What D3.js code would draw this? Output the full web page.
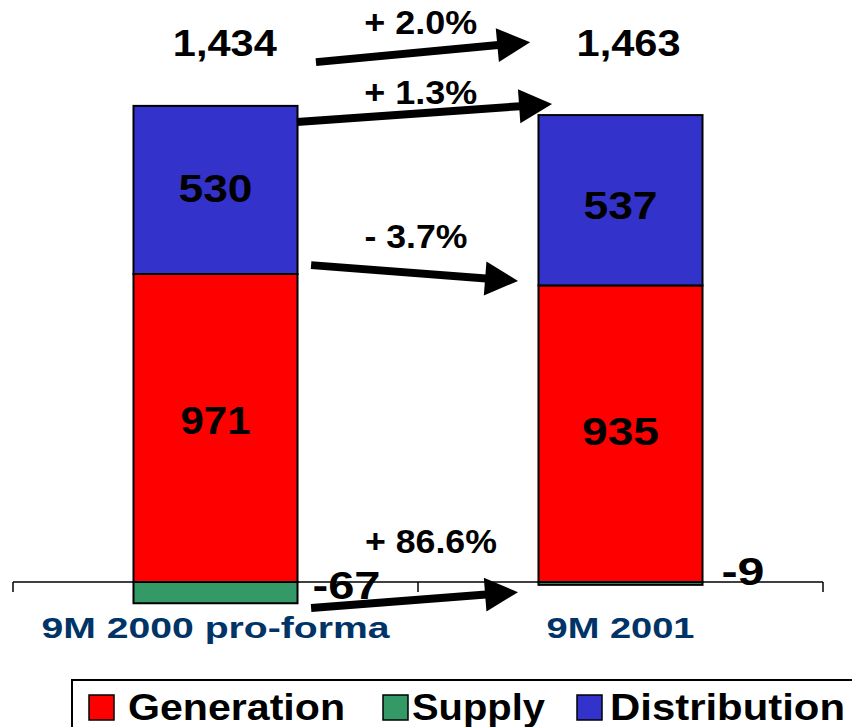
<!DOCTYPE html>
<html>
<head>
<meta charset="utf-8">
<script src="https://cdn.jsdelivr.net/npm/d3@7"></script>
<style>
  html, body { margin: 0; padding: 0; background: #fff; }
  svg { display: block; }
  text { font-family: "Liberation Sans", Arial, sans-serif; font-weight: bold; }
</style>
</head>
<body>
<svg id="chart" width="852" height="727"></svg>
<script>
// EBITDA by business line (figures as labelled)
const periods = ["9M 2000 pro-forma", "9M 2001"];
const segments = ["Supply", "Generation", "Distribution"];
const generation = [971, 935];
const supply = [-67, -9];
const distribution = [530, 537];
const totals = [1434, 1463];
const changes = ["+ 2.0%", "+ 1.3%", "- 3.7%", "+ 86.6%"];
const legendItems = ["Generation", "Supply", "Distribution"];

const colors = { Generation: "#ff0000", Supply: "#339966", Distribution: "#3333cc" };

const svg = d3.select("#chart");

// scales
const x = d3.scaleBand().domain(periods).range([13, 823]).paddingInner(0).paddingOuter(0);
const xi = d3.scaleLinear().domain([0, periods.length]).range([13, 823]); // continuous position across periods
const y = d3.scaleLinear().domain([0, 1000]).range([582, 582 - 317.2]);
const barW = x.bandwidth() * 0.405;

// stacked values: positive segments stack up from zero, supply hangs below
const rows = periods.map((p, i) => ({
  period: p,
  Generation: generation[i],
  Supply: supply[i],
  Distribution: distribution[i]
}));
const pieces = [];
rows.forEach(r => {
  pieces.push({ period: r.period, key: "Supply", y0: Math.min(0, r.Supply), y1: Math.max(0, r.Supply) });
  pieces.push({ period: r.period, key: "Generation", y0: 0, y1: r.Generation });
  pieces.push({ period: r.period, key: "Distribution", y0: r.Generation, y1: r.Generation + r.Distribution });
});

svg.append("g").selectAll("rect").data(pieces).join("rect")
  .attr("x", d => x(d.period) + (x.bandwidth() - barW) / 2)
  .attr("width", barW)
  .attr("y", d => y(d.y1))
  .attr("height", d => Math.max(0, y(d.y0) - y(d.y1)))
  .attr("fill", d => colors[d.key])
  .attr("stroke", "#000")
  .attr("stroke-width", 2);

// category axis
const axis = svg.append("g");
axis.append("line").attr("x1", xi(0)).attr("x2", xi(periods.length))
  .attr("y1", y(0)).attr("y2", y(0)).attr("stroke", "#000").attr("stroke-width", 1.5);
axis.selectAll("line.tick").data(d3.range(periods.length + 1)).join("line")
  .attr("class", "tick")
  .attr("x1", d => xi(d)).attr("x2", d => xi(d))
  .attr("y1", y(0)).attr("y2", y(0) + 10)
  .attr("stroke", "#000").attr("stroke-width", 1.5);

function label(sel, txt, px, py, size, width, anchor, fill) {
  return sel.append("text")
    .attr("x", px).attr("y", py)
    .attr("font-size", size)
    .attr("text-anchor", anchor || "middle")
    .attr("fill", fill || "#000")
    .attr("textLength", width)
    .attr("lengthAdjust", "spacingAndGlyphs")
    .text(txt);
}

// period labels
const catWidths = [348, 148];
periods.forEach((p, i) => {
  label(svg, p, x(p) + x.bandwidth() / 2, 638, 30, catWidths[i], "middle", "#003366");
});

// segment values inside bars
const inner = svg.append("g");
const segWidths = [[70, 74], [77, 74]];
const segShift = [[6, 12], [11, 19]];
periods.forEach((p, i) => {
  const cx = x(p) + x.bandwidth() / 2;
  label(inner, d3.format(",")(generation[i]), cx, y(generation[i] / 2) + segShift[i][0], 38, segWidths[i][0]);
  label(inner, d3.format(",")(distribution[i]), cx, y(generation[i] + distribution[i] / 2) + segShift[i][1], 38, segWidths[i][1]);
});

// supply values beside the bars
label(svg, String(supply[0]), x(periods[0]) + (x.bandwidth() + barW) / 2 + 15, 599, 38, 68, "start");
label(svg, String(supply[1]), x(periods[1]) + (x.bandwidth() + barW) / 2 + 19, 585, 38, 43, "start");

// totals above the bars
label(svg, d3.format(",")(totals[0]), xi(0.523), 56, 37, 104);
label(svg, d3.format(",")(totals[1]), xi(1.52), 56, 37, 104);

// change arrows between periods: [tail index, tail value, tip index, tip value]
const arrows = [
  [0.748, 1639, 1.277, 1702],
  [0.701, 1450, 1.331, 1507],
  [0.736, 999, 1.247, 949],
  [0.736, -82, 1.247, -32]
];
const pctPos = [[1.007, 1727, 113], [1.007, 1508, 113], [0.995, 1053, 103], [1.032, 93, 132]];

const arrowG = svg.append("g");
arrows.forEach(a => {
  const x1 = xi(a[0]), y1 = y(a[1]), x2 = xi(a[2]), y2 = y(a[3]);
  const ang = Math.atan2(y2 - y1, x2 - x1);
  const headL = 33, headW = 17;
  const bx = x2 - headL * Math.cos(ang), by = y2 - headL * Math.sin(ang);
  arrowG.append("line")
    .attr("x1", x1).attr("y1", y1).attr("x2", bx + Math.cos(ang)).attr("y2", by + Math.sin(ang))
    .attr("stroke", "#000").attr("stroke-width", 8);
  const nx = -Math.sin(ang), ny = Math.cos(ang);
  arrowG.append("path")
    .attr("d", `M${x2},${y2}L${bx + nx * headW},${by + ny * headW}L${bx - nx * headW},${by - ny * headW}Z`)
    .attr("fill", "#000");
});
changes.forEach((c, i) => {
  label(svg, c, xi(pctPos[i][0]), y(pctPos[i][1]), 34, pctPos[i][2]);
});

// legend
const lg = svg.append("g");
lg.append("rect").attr("x", 72).attr("y", 680).attr("width", 800).attr("height", 80)
  .attr("fill", "#fff").attr("stroke", "#000").attr("stroke-width", 2);
const legendX = [[89, 128, 217], [383, 412, 133], [577, 610, 235]];
legendItems.forEach((k, i) => {
  lg.append("rect").attr("x", legendX[i][0]).attr("y", 695).attr("width", 25).attr("height", 25)
    .attr("fill", colors[k]).attr("stroke", "#000").attr("stroke-width", 1.5);
  label(lg, k, legendX[i][1], 720, 37, legendX[i][2], "start");
});
</script>
</body>
</html>
